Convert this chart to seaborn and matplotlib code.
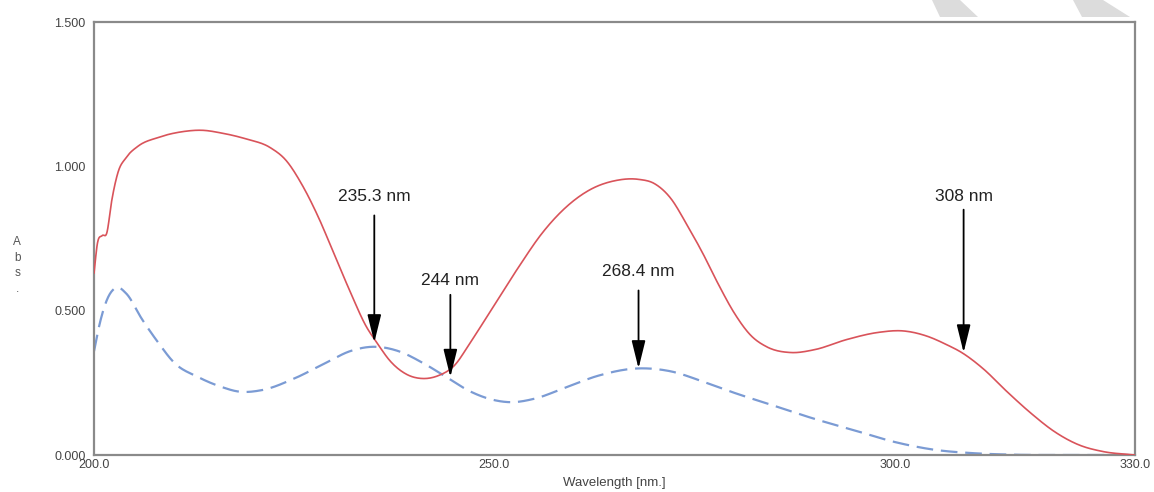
import numpy as np
import matplotlib
matplotlib.use('Agg')
import matplotlib.pyplot as plt
from matplotlib.patches import Polygon
import seaborn as sns
import pandas as pd

# Spectrum 1 (solid red)
red_wl = [200.0, 200.4, 201.0, 201.6, 202.2, 203.0, 204.0, 205.5, 208.0, 211.0, 213.5,
          216.0, 219.0, 222.0, 224.0, 226.0, 228.0, 230.0, 232.0, 234.0, 235.3, 237.0,
          239.0, 241.0, 243.0, 245.0, 247.0, 250.0, 253.0, 256.0, 259.0, 262.0, 265.0,
          268.0, 270.0, 272.0, 274.0, 276.0, 278.0, 280.0, 282.0, 284.0, 287.0, 290.0,
          294.0, 298.0, 301.0, 304.0, 306.5, 308.3, 311.0, 314.0, 317.0, 320.0, 323.0,
          326.0, 330.0]
red_abs = [0.63, 0.73, 0.76, 0.77, 0.88, 0.98, 1.03, 1.07, 1.10, 1.12, 1.125,
           1.115, 1.095, 1.065, 1.02, 0.935, 0.825, 0.695, 0.565, 0.445, 0.39, 0.325,
           0.28, 0.265, 0.275, 0.31, 0.39, 0.52, 0.65, 0.77, 0.86, 0.92, 0.95,
           0.955, 0.94, 0.89, 0.80, 0.70, 0.59, 0.49, 0.415, 0.375, 0.355, 0.365,
           0.40, 0.425, 0.43, 0.412, 0.382, 0.356, 0.30, 0.22, 0.145, 0.08, 0.035,
           0.012, 0.0]

# Spectrum 2 (dashed blue)
blue_wl = [200.0, 200.5, 201.5, 202.8, 204.0, 206.0, 208.0, 210.0, 213.0, 216.0, 218.0,
           221.0, 225.0, 229.0, 232.0, 235.0, 238.0, 241.0, 244.0, 247.0, 250.0, 252.0,
           255.0, 259.0, 263.0, 268.0, 272.0, 276.0, 280.0, 285.0, 290.0, 295.0, 300.0,
           305.0, 310.0, 315.0, 322.0, 330.0]
blue_abs = [0.36, 0.43, 0.53, 0.58, 0.56, 0.47, 0.39, 0.32, 0.27, 0.235, 0.22,
            0.225, 0.265, 0.32, 0.36, 0.375, 0.36, 0.32, 0.27, 0.22, 0.19, 0.183,
            0.195, 0.235, 0.275, 0.30, 0.29, 0.255, 0.215, 0.17, 0.125, 0.085, 0.045,
            0.018, 0.006, 0.001, 0.0, 0.0]

# Annotations: label, x, arrow tip y, arrow tail y, text y
ann_labels = ['235.3 nm', '244 nm', '268.4 nm', '308 nm']
ann_x = [235.0, 244.5, 268.0, 308.6]
ann_tip = [0.39, 0.27, 0.30, 0.355]
ann_tail = [0.83, 0.555, 0.57, 0.85]
ann_text_y = [0.895, 0.605, 0.635, 0.895]

x_ticks = [200.0, 250.0, 300.0, 330.0]
y_ticks = [0.0, 0.5, 1.0, 1.5]


def spline(wl, ab, per_seg=20):
    # cubic Hermite through the read-off points
    x = np.asarray(wl, float)
    y = np.asarray(ab, float)
    m = np.gradient(y, x)
    xs, ys = [], []
    for i in range(len(x) - 1):
        h = x[i + 1] - x[i]
        t = np.linspace(0, 1, per_seg, endpoint=False)
        h00 = 2 * t**3 - 3 * t**2 + 1
        h10 = t**3 - 2 * t**2 + t
        h01 = -2 * t**3 + 3 * t**2
        h11 = t**3 - t**2
        xs.append(x[i] + t * h)
        ys.append(h00 * y[i] + h10 * h * m[i] + h01 * y[i + 1] + h11 * h * m[i + 1])
    xs.append([x[-1]])
    ys.append([y[-1]])
    return pd.DataFrame({'wl': np.concatenate(xs), 'abs': np.clip(np.concatenate(ys), 0, None)})


sns.set_style('white')
plt.rcParams['font.family'] = ['Liberation Sans', 'DejaVu Sans']

fig = plt.figure(figsize=(11.54, 4.92), dpi=100)
ax = fig.add_axes([0.0815, 0.0752, 0.902, 0.880])

sns.lineplot(data=spline(blue_wl, blue_abs), x='wl', y='abs', ax=ax, color='#7b9bd4',
             linewidth=1.6, linestyle=(0, (7.5, 3.5)), sort=False, zorder=2)
sns.lineplot(data=spline(red_wl, red_abs), x='wl', y='abs', ax=ax, color='#d9535a',
             linewidth=1.2, sort=False, zorder=3)

for lab, x, tip, tail, ty in zip(ann_labels, ann_x, ann_tip, ann_tail, ann_text_y):
    ax.annotate('', xy=(x, tip), xytext=(x, tail),
                arrowprops=dict(arrowstyle='-|>,head_length=1.7,head_width=0.42',
                                color='black', lw=1.3, shrinkA=0, shrinkB=0),
                zorder=5)
    ax.text(x, ty, lab, ha='center', va='center', fontsize=12.5, color='#222222')

ax.set_xlim(200, 330)
ax.set_ylim(0, 1.5)
ax.set_xticks(x_ticks)
ax.set_xticklabels([f'{v:.1f}' for v in x_ticks], fontsize=9, color='#444444')
ax.set_yticks(y_ticks)
ax.set_yticklabels([f'{v:.3f}' for v in y_ticks], fontsize=9, color='#444444')
ax.tick_params(axis='y', direction='out', length=5, width=1, color='#888888', pad=1)
ax.tick_params(axis='x', direction='in', length=4, width=1, color='#888888', pad=3)
for s in ax.spines.values():
    s.set_color('#8a8a8a')
    s.set_linewidth(1.6)
ax.set_xlabel('Wavelength [nm.]', fontsize=9.5, color='#444444', labelpad=4)
ax.set_ylabel('')
fig.text(0.015, 0.46, 'A\nb\ns\n.', ha='center', va='center', fontsize=8.5,
         color='#555555', linespacing=1.4)

# light grey watermark strokes at the top right
for pts in ([(932, 0), (960, 0), (978, 17), (940, 17)],
            [(1073, 0), (1103, 0), (1130, 17), (1082, 17)]):
    fig.patches.append(Polygon([(px / 1154, 1 - py / 492) for px, py in pts],
                               closed=True, transform=fig.transFigure,
                               facecolor='#dcdcdc', edgecolor='none'))

fig.savefig('out.png', dpi=100)
plt.close(fig)
